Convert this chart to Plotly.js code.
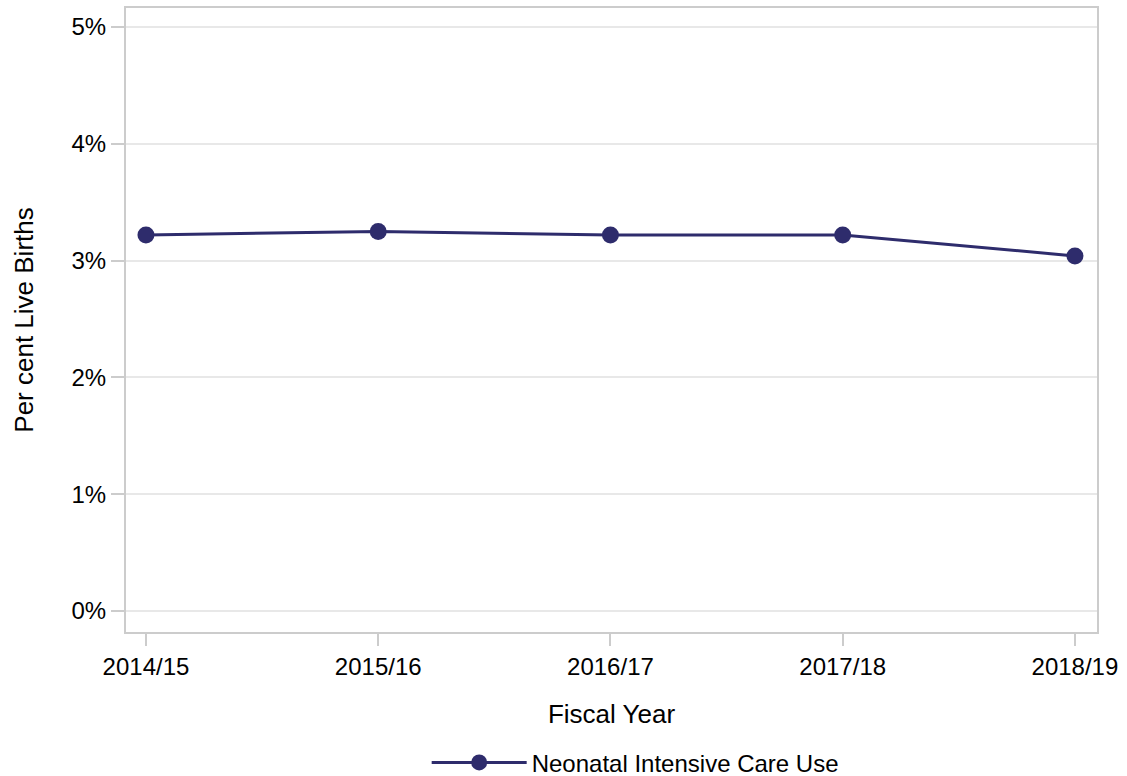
<!DOCTYPE html>
<html>
<head>
<meta charset="utf-8">
<script src="https://cdn.plot.ly/plotly-3.0.1.min.js"></script>
<style>html,body{margin:0;padding:0;background:#fff;}#chart{width:1127px;height:776px;}</style>
</head>
<body>
<div id="chart"></div>
<script>
const years = ["2014/15", "2015/16", "2016/17", "2017/18", "2018/19"];
const nicuPercent = [3.22, 3.25, 3.22, 3.22, 3.04];
const yTicks = [0, 1, 2, 3, 4, 5];
const yTickLabels = ["0%", "1%", "2%", "3%", "4%", "5%"];

const lineColor = "#2e2c6c";
const trace = {
  x: years,
  y: nicuPercent,
  type: "scatter",
  mode: "lines+markers",
  name: "Neonatal Intensive Care Use",
  line: {color: lineColor, width: 3},
  marker: {color: lineColor, size: 17}
};

const font = {family: "Liberation Sans, Arial, sans-serif", color: "#000"};
const layout = {
  width: 1127, height: 776,
  margin: {l: 126, r: 30, t: 8, b: 144, autoexpand: false},
  paper_bgcolor: "#fff", plot_bgcolor: "#fff",
  font: font,
  showlegend: true,
  legend: {
    orientation: "h", xref: "container", x: 0.5636, xanchor: "center",
    yref: "container", y: 0.017, yanchor: "middle",
    itemwidth: 95,
    font: {size: 24, family: font.family, color: "#000"}
  },
  xaxis: {
    type: "category",
    range: [-0.086, 4.095],
    showline: true, mirror: true, linecolor: "#cccccc", linewidth: 2,
    ticks: "outside", ticklen: 12, tickwidth: 2, tickcolor: "#cccccc",
    showgrid: false, zeroline: false,
    tickfont: {size: 24},
    title: {text: "Fiscal Year", font: {size: 26}, standoff: 26}
  },
  yaxis: {
    range: [-0.18, 5.163],
    tickvals: yTicks, ticktext: yTickLabels,
    showline: true, mirror: true, linecolor: "#cccccc", linewidth: 2,
    ticks: "outside", ticklen: 13, tickwidth: 2, tickcolor: "#cccccc",
    showgrid: true, gridcolor: "#e8e8e8", gridwidth: 2, zeroline: false,
    tickfont: {size: 24},
    title: {text: "Per cent Live Births", font: {size: 26}, standoff: 30}
  }
};

Plotly.newPlot("chart", [trace], layout, {displayModeBar: false});
</script>
</body>
</html>
